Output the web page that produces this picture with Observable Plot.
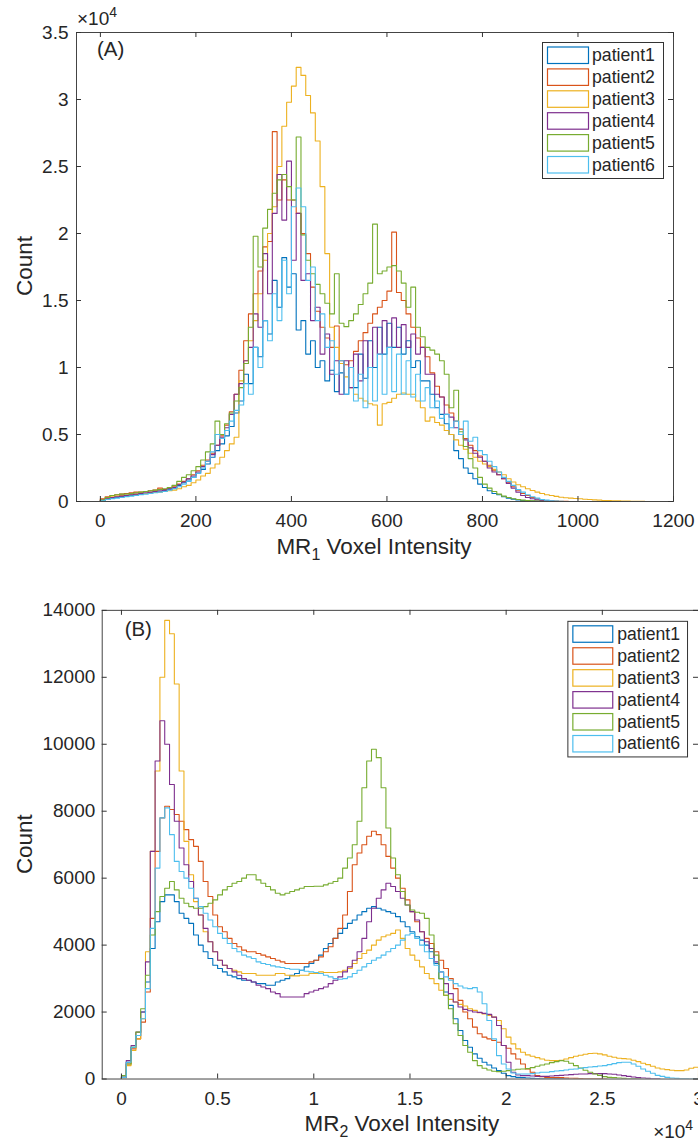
<!DOCTYPE html>
<html><head><meta charset="utf-8">
<script src="https://cdn.jsdelivr.net/npm/d3@7"></script>
<script src="https://cdn.jsdelivr.net/npm/@observablehq/plot@0.6"></script>
<style>
html,body{margin:0;padding:0;background:#fff;overflow:hidden;width:698px;height:1145px;}
#wrap{position:relative;width:698px;height:1145px;overflow:hidden;background:#fff;}
#wrap svg{position:absolute;left:0;}
</style></head><body><div id="wrap"></div>
<script>
const FONT = "'Liberation Sans', Arial, Helvetica, sans-serif";
const patients = ["patient1","patient2","patient3","patient4","patient5","patient6"];
const colors = ["#0072BD","#D95319","#EDB120","#7E2F8E","#77AC30","#4DBEEE"];

// ---------- Panel A: MR1 histograms (bin width 10, counts) ----------
const binWidthA = 10;
const mr1_patient1 = [
50,150,250,300,350,400,450,500,550,600,
650,700,750,800,900,1000,1200,1400,1600,1800,
2100,2400,2800,3300,3800,4300,4900,5600,6600,7500,
9500,8800,11500,10800,13500,12500,16500,14500,18200,16000,
17000,12800,13500,11000,12000,10000,10500,9000,9800,8200,
9600,8000,10000,8500,11000,9200,12000,10000,13000,11000,
13300,11500,13000,11000,12000,10000,10500,9000,9000,8000,
7000,6500,5800,5000,3800,3200,2500,2100,1700,1300,
1050,800,600,500,350,250,180,120,80,50,
30,20,10,5,0];
const mr1_patient2 = [
200,350,450,500,550,600,650,700,700,750,
800,850,1000,900,1000,1100,1300,1500,1700,2000,
2300,2700,3100,3600,4200,4900,5700,6700,8000,9800,
12000,14000,15500,17200,19000,19400,27600,22500,24000,22500,
22500,21500,20000,18500,16000,14200,13000,12200,11500,13100,
10500,10200,10500,11200,12000,12600,13300,14000,14500,15000,
15700,20100,15600,15000,14000,13000,12200,11500,10800,9600,
8600,7800,7200,6600,6000,5400,4700,4200,3800,3400,
3000,2700,2300,2000,1700,1400,1100,850,600,450,
300,200,130,80,50,30,15,10,5,0];
const mr1_patient3 = [
150,250,350,400,450,450,500,550,600,600,
650,700,700,750,800,850,950,1100,1200,1400,
1600,1900,2100,2500,2800,3300,3800,4300,4800,9000,
10500,12000,13500,15500,18000,20000,22000,25000,28000,29800,
31000,32400,31800,30300,29000,26900,23500,18500,13000,11500,
10300,9300,8500,8000,7700,7500,7300,7200,5700,7300,
7400,7700,8000,8100,8000,8000,7500,7000,6000,6300,
5900,5700,5300,5000,4600,4200,3900,3600,3300,3000,
2800,2600,2400,2200,2000,1700,1450,1250,1100,950,
820,700,600,500,450,380,320,280,250,220,
200,170,150,120,100,80,70,60,50,40,
30,20,15,10,5];
const mr1_patient4 = [
100,200,300,350,400,450,500,550,600,650,
700,750,800,850,950,1050,1250,1450,1700,1900,
2200,2600,3000,3500,4200,4800,5500,6500,8000,8800,
10500,11500,14000,13000,18500,15500,21500,24400,21000,25400,
18000,21500,16500,17000,13500,14500,11000,12500,9500,10500,
8000,10500,8500,11000,9000,12000,10000,13000,11000,13500,
11500,13700,11500,13200,11500,12500,11000,11500,9500,9500,
8000,7800,6500,6300,5500,5000,4600,4000,3600,3300,
3000,2500,2200,2000,1700,1350,1000,700,450,300,
200,120,70,40,20,5,0];
const mr1_patient5 = [
100,300,450,500,550,550,600,650,700,750,
800,850,900,950,1050,1200,1500,1800,2000,2300,
2600,3100,3700,4300,6000,5000,5800,6600,7500,8500,
10300,13000,19800,17500,20400,21800,23000,24000,24400,23500,
22500,27200,19900,18000,17000,16200,15500,14800,14000,17000,
13300,13050,13500,14000,14700,15500,16300,20700,17000,17200,
17500,17600,17200,16300,14500,16000,13000,12300,11500,11300,
11000,10500,9500,7000,8300,5200,4100,3200,2500,1800,
1300,1000,750,550,400,300,200,150,100,70,
50,30,15,5,0];
const mr1_patient6 = [
50,150,200,250,300,350,400,450,500,550,
600,650,700,750,850,950,1100,1300,1500,1800,
2100,2500,3000,3700,5000,4700,5300,6000,6800,7200,
8800,8000,11500,10000,13500,12000,15500,13500,18000,15500,
22000,23400,22000,16500,17500,13500,14000,11500,12000,9500,
10500,8000,10000,7500,9500,7000,10000,7500,11000,8000,
11500,8200,11000,8000,10500,7800,9500,7500,8500,7000,
7500,6200,6500,5500,6000,5000,6000,4500,4800,3800,
3500,3000,2600,2200,1800,1500,1200,900,700,500,
350,250,150,100,60,30,10,0];

// ---------- Panel B: MR2 histograms (bin width 250, counts) ----------
const binWidthB = 250;
const mr2_patient1 = [
50,500,950,1300,2000,2900,3900,4700,
5300,5500,5500,5300,4950,4800,4650,4300,
4000,3800,3600,3400,3300,3200,3100,3050,
3000,2950,2950,2900,2850,2850,2800,2800,
2900,2950,3000,3100,3150,3250,3350,3450,
3550,3700,3900,4050,4200,4350,4500,4650,
4750,4900,5000,5100,5150,5100,5050,5000,
4950,4850,4700,4550,4400,4250,4150,4000,
3800,3450,3000,2600,2200,1800,1450,1150,
950,750,620,500,420,330,250,170,
100,70,50,40,30,20,15,10,
10,5,5,5,0];
const mr2_patient2 = [
50,450,900,1200,1700,2600,4800,6800,
7800,8150,8050,7900,7700,7450,7150,6950,
6500,5900,5450,4900,4550,4400,4200,4050,
3950,3850,3800,3800,3750,3700,3650,3600,
3550,3500,3450,3450,3450,3450,3450,3500,
3550,3650,3800,3950,4200,4500,4900,5600,
6400,6750,7000,7250,7400,7300,7000,6650,
6300,6000,5700,5350,5000,4700,4400,4200,
4050,3800,3550,3300,3000,2700,2350,2000,
1800,1550,1350,1250,1200,1150,1100,1000,
920,750,600,450,300,200,100,70,
50,45,40,40,30,25,20,15,
10,10,5,5,0];
const mr2_patient3 = [
30,400,850,1200,1800,3800,6800,9200,
12000,13700,13300,11800,9200,7100,6100,5300,
4900,4400,4100,3800,3550,3400,3300,3250,
3200,3150,3150,3150,3100,3100,3100,3100,
3150,3150,3100,3080,3080,3100,3100,3150,
3150,3200,3180,3180,3180,3200,3250,3300,
3450,3600,3750,3850,4000,4150,4250,4300,
4350,4450,4200,3900,3700,3550,3350,3150,
3000,2850,2650,2500,2380,2300,2230,2180,
2100,2050,1980,1940,1900,1850,1750,1500,
1250,1050,900,800,720,680,640,600,
560,550,550,560,600,640,680,710,
740,760,770,750,720,680,650,620,
610,600,560,520,470,430,380,330,
300,280,260,250,250,270,320,350];
const mr2_patient4 = [
50,550,1000,1400,2000,3500,6800,9500,
10700,10000,8800,7700,6900,6400,5900,5400,
4900,4500,4100,3800,3550,3400,3300,3200,
3100,3000,2950,2900,2800,2750,2700,2600,
2550,2450,2450,2450,2450,2450,2550,2600,
2650,2700,2750,2850,2950,3050,3200,3350,
3550,3800,4200,4700,5100,5400,5650,5850,
5750,5600,5400,5200,5000,4750,4400,4100,
3900,3500,3200,2850,2550,2300,2150,2080,
2040,2000,1990,1960,1930,1850,1600,1000,
500,200,120,100,100,90,80,80,
80,90,100,110,120,130,140,150,
150,160,160,160,160,150,140,120,
100,80,60,40,30,20,10,5];
const mr2_patient5 = [
100,450,950,1400,2100,3100,4300,5000,
5450,5700,5900,5650,5400,5250,5150,5100,
5100,5150,5250,5350,5500,5650,5750,5850,
5900,6000,6100,6100,5950,5850,5750,5650,
5550,5500,5550,5600,5650,5700,5750,5750,
5760,5760,5800,5850,5900,6000,6300,6600,
7000,7700,8700,9500,9850,9600,8700,7500,
6600,6100,5600,5200,5050,4980,4950,4800,
4300,3700,3000,2500,2100,1650,1300,1000,
800,550,400,320,270,230,220,230,
250,270,290,300,310,340,380,420,
450,490,520,550,530,470,400,330,
260,200,150,110,70,50,40,30,
20,10,5,0];
const mr2_patient6 = [
50,500,950,1300,1800,2700,4500,6300,
7800,8100,7300,6500,6200,6000,5700,5400,
5150,4950,4750,4550,4350,4200,4050,3900,
3800,3700,3650,3600,3500,3450,3420,3380,
3350,3330,3300,3280,3280,3250,3220,3200,
3180,3150,3100,3050,3000,2980,3000,3050,
3150,3250,3350,3450,3550,3620,3700,3800,
3900,4000,4150,4300,4350,4200,4000,3800,
3600,3400,3200,3050,2950,2850,2780,2720,
2700,2730,2600,2250,1750,1200,700,450,
300,180,150,150,150,160,180,200,
200,220,240,250,270,290,300,320,
340,360,370,390,400,430,460,490,
500,500,450,380,300,230,170,110,
80,50,30,20,10,5,0,0];

// ---------- ticks ----------
const xTicksA = [0,200,400,600,800,1000,1200];
const yTicksA = [0,5000,10000,15000,20000,25000,30000,35000];
const xTicksB = [0,5000,10000,15000,20000,25000,30000];
const yTicksB = [0,2000,4000,6000,8000,10000,12000,14000];

const seriesA = [mr1_patient1,mr1_patient2,mr1_patient3,mr1_patient4,mr1_patient5,mr1_patient6];
const seriesB = [mr2_patient1,mr2_patient2,mr2_patient3,mr2_patient4,mr2_patient5,mr2_patient6];

function stairs(list, w) {
  const rows = [];
  list.forEach((vals, k) => {
    const name = patients[k];
    rows.push({x: 0, y: 0, patient: name});
    vals.forEach((v, i) => rows.push({x: i * w, y: v, patient: name}));
    rows.push({x: vals.length * w, y: 0, patient: name});
  });
  return rows;
}

function makePlot(o) {
  const frameW = o.width - o.ml - o.mr;
  const frameH = o.height - o.mt - o.mb;
  const tickCol = "#333";
  return Plot.plot({
    width: o.width, height: o.height,
    marginTop: o.mt, marginBottom: o.mb, marginLeft: o.ml, marginRight: o.mr,
    style: {fontFamily: FONT, fontSize: "19px", color: "#262626", background: "white", overflow: "visible"},
    x: {domain: o.xDomain},
    y: {domain: o.yDomain},
    color: {domain: patients, range: colors},
    marks: [
      Plot.line(o.data, {x: "x", y: "y", z: "patient", stroke: "patient", curve: "step-after", strokeWidth: 1.1, clip: true}),
      Plot.frame({stroke: "#444", strokeWidth: 1}),
      Plot.ruleX(o.xTicks, {x: d => d, insetTop: frameH - 5, stroke: tickCol}),
      Plot.ruleX(o.xTicks, {x: d => d, insetBottom: frameH - 5, stroke: tickCol}),
      Plot.ruleY(o.yTicks, {y: d => d, insetRight: frameW - 5, stroke: tickCol}),
      Plot.ruleY(o.yTicks, {y: d => d, insetLeft: frameW - 5, stroke: tickCol}),
      Plot.axisX(o.xTicks, {tickSize: 0, tickPadding: o.xPad, tickFormat: o.xFmt, label: null, fill: "#262626"}),
      Plot.axisY(o.yTicks, {tickSize: 0, tickPadding: o.yPad, tickFormat: o.yFmt, label: null, fill: "#262626"})
    ]
  });
}

function annotate(svg, o) {
  const g = d3.select(svg).append("g").attr("font-family", FONT).attr("fill", "#262626").attr("text-anchor", "start");
  g.append("text").attr("x", o.letterX).attr("y", o.letterY).attr("font-size", 20.5).text(o.letter);
  g.append("text").attr("transform", `translate(${o.countX},${o.countY}) rotate(-90)`)
    .attr("text-anchor", "middle").attr("font-size", 22.5).text("Count");
  const t = g.append("text").attr("x", o.xlabX).attr("y", o.xlabY).attr("text-anchor", "middle").attr("font-size", 22.5);
  t.append("tspan").text("MR");
  t.append("tspan").attr("font-size", 16).attr("dy", 6).text(o.sub);
  t.append("tspan").attr("dy", -6).text(" Voxel Intensity");
  const e = g.append("text").attr("x", o.expX).attr("y", o.expY).attr("font-size", 19);
  e.append("tspan").text("\u00d710");
  e.append("tspan").attr("font-size", 14).attr("dy", -8).text("4");
  // legend
  const L = g.append("g");
  L.append("rect").attr("x", o.legX + 0.5).attr("y", o.legY + 0.5).attr("width", o.legW).attr("height", o.legH)
    .attr("fill", "white").attr("stroke", "#333").attr("stroke-width", 1);
  patients.forEach((p, i) => {
    const y = o.swY + i * o.pitch;
    L.append("rect").attr("x", o.swX + 0.5).attr("y", y + 0.5).attr("width", o.swW).attr("height", 16.5)
      .attr("fill", "none").attr("stroke", colors[i]).attr("stroke-width", 1.2);
    L.append("text").attr("x", o.txX).attr("y", y + 14.5).attr("font-size", 17.7).text(p);
  });
}

const wrap = document.getElementById("wrap");

const plotA = makePlot({
  data: stairs(seriesA, binWidthA),
  width: 698, height: 560, mt: 32, mb: 59, ml: 76, mr: 25,
  xDomain: [-50, 1200], yDomain: [0, 35000],
  xTicks: xTicksA, yTicks: yTicksA,
  xFmt: d => String(d), yFmt: d => String(d / 10000),
  xPad: 12, yPad: 8
});
plotA.style.top = "0px";
wrap.appendChild(plotA);
annotate(plotA, {
  letter: "(A)", letterX: 97, letterY: 56,
  countX: 32, countY: 266,
  xlabX: 374, xlabY: 554, sub: "1",
  expX: 77, expY: 25,
  legX: 542, legY: 42, legW: 121, legH: 136,
  swX: 547, swY: 46.5, swW: 41, pitch: 21.9, txX: 592
});

const plotB = makePlot({
  data: stairs(seriesB, binWidthB),
  width: 700, height: 585, mt: 50, mb: 65, ml: 102, mr: 0,
  xDomain: [-1000, 30000], yDomain: [0, 14000],
  xTicks: xTicksB, yTicks: yTicksB,
  xFmt: d => String(d / 10000), yFmt: d => String(d),
  xPad: 13, yPad: 7
});
plotB.style.top = "560px";
wrap.appendChild(plotB);
annotate(plotB, {
  letter: "(B)", letterX: 125, letterY: 76,
  countX: 32, countY: 285,
  xlabX: 403, xlabY: 573, sub: "2",
  expX: 655, expY: 580,
  legX: 569, legY: 61, legW: 120, legH: 136,
  swX: 574, swY: 65.5, swW: 40, pitch: 22, txX: 619
});
</script></body></html>
